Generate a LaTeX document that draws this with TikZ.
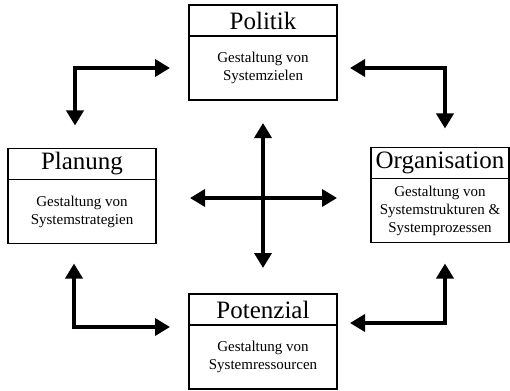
\documentclass[tikz,border=0pt]{standalone}
\usepackage{fontspec}
\setmainfont{Liberation Serif}
\usetikzlibrary{positioning,arrows.meta}

\begin{document}
\begin{tikzpicture}[x=1pt,y=-1pt,
    kopf/.style={draw, line width=1.3pt, minimum width=148pt, minimum height=31pt,
      inner sep=0pt, outer sep=0pt, font=\fontsize{25}{29}\selectfont},
    inhalt/.style={draw, line width=1.3pt, minimum width=148pt, minimum height=64pt,
      inner sep=0pt, outer sep=0pt, align=center, font=\fontsize{15}{18}\selectfont},
    arr/.style={{Triangle[length=15pt,width=17pt]}-{Triangle[length=15pt,width=17pt]}, line width=3.6pt}
  ]
    \useasboundingbox (0,0) rectangle (510,390);

    \node[kopf] (poltitel) at (263,20.5) {Politik};
    \node[inhalt, below=0pt of poltitel] (polbody) {Gestaltung von\\Systemzielen};

    \node[kopf] (plantitel) at (82,164) {Planung};
    \node[inhalt, below=0pt of plantitel] (planbody) {Gestaltung von\\Systemstrategien};

    \node[kopf, minimum width=138pt] (orgtitel) at (440,163) {Organisation};
    \node[inhalt, minimum width=138pt, below=0pt of orgtitel] (orgbody) {Gestaltung von\\Systemstrukturen \&\\Systemprozessen};

    \node[kopf] (pottitel) at (263,309.5) {Potenzial};
    \node[inhalt, below=0pt of pottitel] (potbody) {Gestaltung von\\Systemressourcen};

    % elbow arrows between the boxes
    \draw[arr] ([xshift=-7pt,yshift=23pt]plantitel.north) |- ([xshift=-19pt]polbody.west);
    \draw[arr] ([xshift=13pt]polbody.east) -| ([xshift=5pt,yshift=19pt]orgtitel.north);
    \draw[arr] ([xshift=-8pt,yshift=-20pt]planbody.south) |- ([xshift=-19pt,yshift=-2pt]potbody.north west);
    \draw[arr] ([xshift=5pt,yshift=-21pt]orgbody.south) |- ([xshift=13pt,yshift=2pt]potbody.north east);

    % cross in the middle
    \coordinate (oben) at (263,123);
    \coordinate (unten) at (263,268);
    \coordinate (links) at (190,198);
    \coordinate (rechts) at (337,198);
    \draw[arr] (oben) -- (unten);
    \draw[arr] (links) -- (rechts);
  \end{tikzpicture}
\end{document}
